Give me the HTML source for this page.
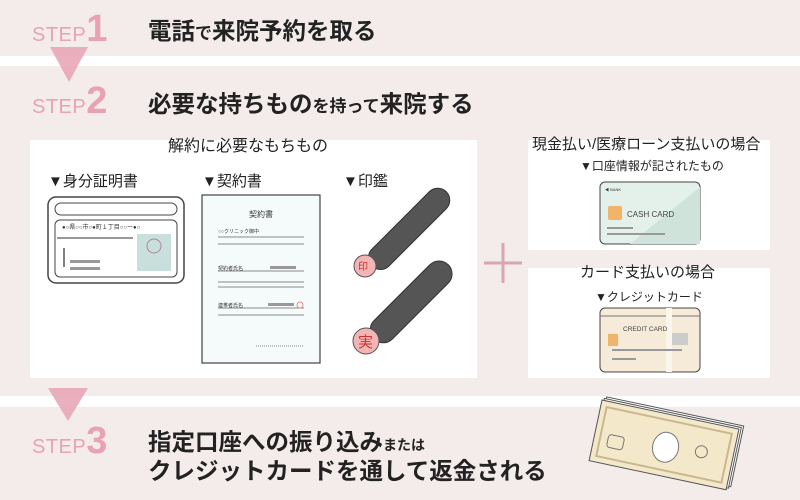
<!DOCTYPE html>
<html><head><meta charset="utf-8"><style>
*{margin:0;padding:0}
body{width:800px;height:500px;position:relative;background:#fff;overflow:hidden;font-family:"Liberation Sans","Noto Sans CJK JP",sans-serif;color:#222}
.band{position:absolute;left:0;width:800px;background:#f4ebeb}
.t{position:absolute;white-space:nowrap}
.step{color:#e8a2b4;font-size:20px;letter-spacing:0.5px}
.step b{font-size:38px;font-weight:bold}
.h{font-weight:bold;font-size:23.5px;color:#222}
.panel{position:absolute;background:#fff}
</style></head><body>
<div class="band" style="top:0;height:56px"></div>
<div class="band" style="top:66px;height:330px"></div>
<div class="band" style="top:407px;height:93px"></div>
<svg style="position:absolute;left:0;top:0" width="800" height="500">
<polygon points="50,47 88,47 69,82" fill="#e8a2b4" opacity="0.85"/>
<polygon points="48,388 88,388 68,421" fill="#e8a2b4" opacity="0.85"/>
</svg>
<div class="t step" style="left:32px;top:8px">STEP<b>1</b></div>
<div class="t h" style="left:148px;top:12px">電話<span style="font-size:17px">で</span>来院予約を取る</div>
<div class="t step" style="left:32px;top:80px">STEP<b>2</b></div>
<div class="t h" style="left:148px;top:85px">必要な持ちもの<span style="font-size:17px">を持って</span>来院する</div>
<div class="t step" style="left:32px;top:420px">STEP<b>3</b></div>
<div class="t h" style="left:148px;top:423px">指定口座への振り込み<span style="font-size:14px">または</span></div>
<div class="t h" style="left:148px;top:452px">クレジットカードを通して返金される</div>

<div class="panel" style="left:30px;top:140px;width:447px;height:238px"></div>
<div class="panel" style="left:528px;top:140px;width:242px;height:110px"></div>
<div class="panel" style="left:528px;top:268px;width:242px;height:110px"></div>
<div class="t" style="left:168px;top:132px;font-size:16px">解約に必要なもちもの</div>
<div class="t" style="left:48px;top:170px;font-size:15px">▼身分証明書</div>
<div class="t" style="left:202px;top:170px;font-size:15px">▼契約書</div>
<div class="t" style="left:343px;top:170px;font-size:15px">▼印鑑</div>
<div class="t" style="left:532px;top:133px;font-size:15px">現金払い/医療ローン支払いの場合</div>
<div class="t" style="left:580px;top:157px;font-size:12px">▼口座情報が記されたもの</div>
<div class="t" style="left:580px;top:261px;font-size:15px">カード支払いの場合</div>
<div class="t" style="left:595px;top:288px;font-size:12px">▼クレジットカード</div>

<svg style="position:absolute;left:0;top:0" width="800" height="500">
<g stroke="#d9a7b3" stroke-width="3"><line x1="503" y1="243" x2="503" y2="283"/><line x1="484" y1="263" x2="522" y2="263"/></g>
<rect x="48" y="197" width="136" height="86" rx="8" fill="#fff" stroke="#444" stroke-width="1.5"/>
<rect x="55" y="203" width="122" height="12" rx="6" fill="none" stroke="#444"/>
<rect x="55" y="220" width="122" height="57" rx="5" fill="none" stroke="#444"/>
<text x="62" y="229" font-size="6" fill="#333" font-family="Liberation Sans,Noto Sans CJK JP,sans-serif">●○県○○市○●町１丁目○○ー●○</text>
<line x1="57" y1="238" x2="133" y2="238" stroke="#777" stroke-width="1.5"/>
<rect x="137" y="234" width="34" height="37" fill="#c9dfdc"/>
<circle cx="154" cy="246" r="7" fill="none" stroke="#a89"/>
<line x1="64" y1="248" x2="64" y2="267" stroke="#555" stroke-width="1.5"/>
<rect x="70" y="260" width="30" height="3" fill="#999"/><rect x="70" y="267" width="30" height="3" fill="#999"/>
<rect x="202" y="195" width="118" height="168" fill="#f5fbfb" stroke="#444" stroke-width="1.2"/>
<text x="249" y="217" font-size="8" fill="#333" font-family="Liberation Sans,Noto Sans CJK JP,sans-serif">契約書</text>
<text x="218" y="233" font-size="5" fill="#333" font-family="Liberation Sans,Noto Sans CJK JP,sans-serif">○○クリニック御中</text>
<g stroke="#888"><line x1="218" y1="237" x2="304" y2="237"/><line x1="218" y1="244" x2="304" y2="244"/>
<line x1="218" y1="271" x2="304" y2="271"/><line x1="218" y1="282" x2="304" y2="282"/><line x1="218" y1="287" x2="304" y2="287"/>
<line x1="218" y1="308" x2="304" y2="308"/><line x1="218" y1="315" x2="304" y2="315"/><line x1="256" y1="346" x2="304" y2="346" stroke-dasharray="1,1"/></g>
<text x="218" y="270" font-size="5" fill="#333" font-family="Liberation Sans,Noto Sans CJK JP,sans-serif">契約者氏名</text>
<text x="218" y="307" font-size="5" fill="#333" font-family="Liberation Sans,Noto Sans CJK JP,sans-serif">連帯者氏名</text>
<rect x="270" y="266" width="26" height="3" fill="#999"/><rect x="268" y="303" width="26" height="3" fill="#999"/>
<circle cx="300" cy="305" r="3" fill="none" stroke="#e88"/>
<g transform="translate(372,266) rotate(-45)"><rect x="0" y="-12" width="105" height="24" rx="12" fill="#555" stroke="#333"/></g>
<circle cx="365" cy="266" r="11" fill="#f2b4b4" stroke="#555"/>
<text x="358" y="270" font-size="10" fill="#c33" font-family="Liberation Sans,Noto Sans CJK JP,sans-serif">印</text>
<g transform="translate(374,339) rotate(-45)"><rect x="0" y="-13" width="105" height="26" rx="13" fill="#555" stroke="#333"/></g>
<circle cx="366" cy="341" r="13" fill="#f2b4b4" stroke="#555"/>
<text x="358" y="347" font-size="15" fill="#c33" font-family="Liberation Sans,Noto Sans CJK JP,sans-serif">実</text>
<rect x="600" y="182" width="100" height="62" rx="5" fill="#e3f1ea" stroke="#444"/>
<polygon points="700,187 700,244 630,244" fill="#cfe3da"/>
<text x="605" y="191" font-size="4" fill="#333">◀ BANK</text>
<rect x="608" y="206" width="14" height="14" rx="2" fill="#f0b56a"/>
<text x="627" y="217" font-size="8" fill="#444">CASH  CARD</text>
<rect x="607" y="227" width="26" height="2" fill="#999"/><rect x="607" y="233" width="58" height="2" fill="#999"/>
<rect x="600" y="308" width="100" height="64" rx="5" fill="#f5ebd8" stroke="#444"/>
<line x1="600" y1="316" x2="700" y2="316" stroke="#777"/>
<rect x="666" y="308" width="6" height="64" fill="#fbf6ec"/>
<text x="623" y="331" font-size="6.5" fill="#444">CREDIT CARD</text>
<rect x="608" y="334" width="10" height="12" fill="#f0b56a"/>
<rect x="672" y="333" width="16" height="12" fill="#ccc"/>
<rect x="612" y="349" width="70" height="2" fill="#999"/><rect x="612" y="358" width="24" height="2" fill="#999"/>
<g transform="translate(602,400) rotate(12)">
<rect x="4" y="-4" width="140" height="62" fill="#fff" stroke="#555"/>
<rect x="2" y="-2" width="140" height="62" fill="#fff" stroke="#555"/>
<rect x="0" y="0" width="140" height="62" fill="#f3e8c9" stroke="#555"/>
<rect x="6" y="6" width="128" height="50" fill="none" stroke="#c9b78f" stroke-width="2"/>
<ellipse cx="72" cy="33" rx="13" ry="15" fill="#fff" stroke="#777"/>
<rect x="14" y="32" width="16" height="13" rx="3" fill="none" stroke="#777"/>
<circle cx="108" cy="30" r="6" fill="none" stroke="#777"/>
</g>
</svg>
</body></html>
